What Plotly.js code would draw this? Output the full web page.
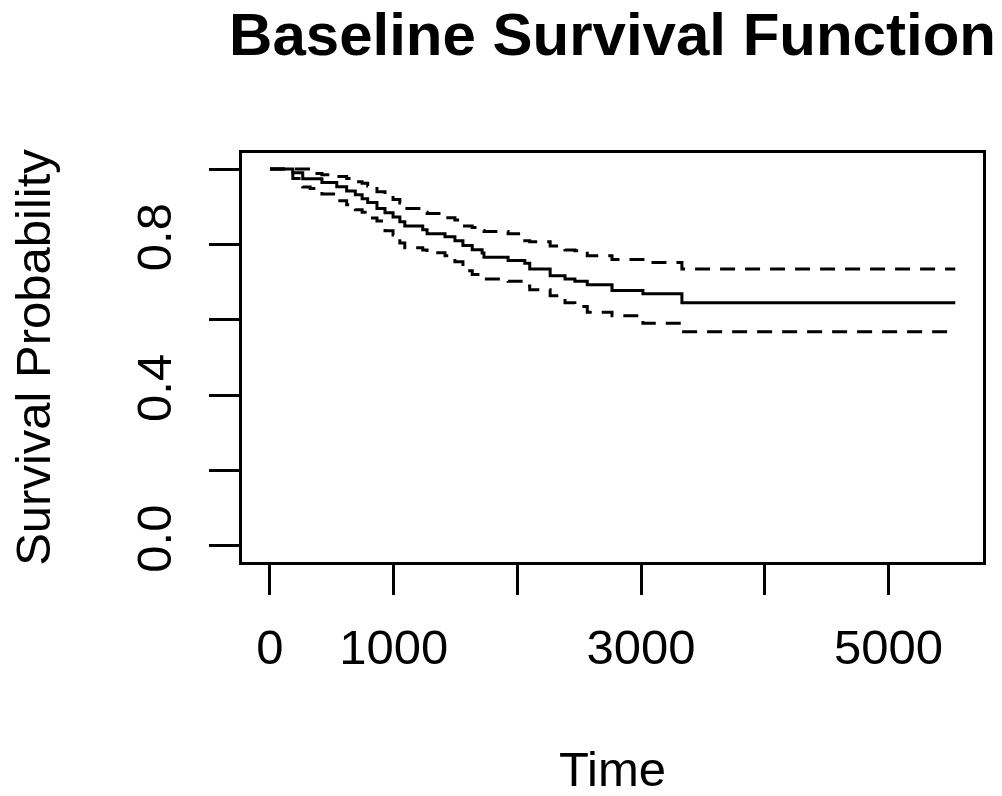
<!DOCTYPE html>
<html>
<head>
<meta charset="utf-8">
<script src="https://cdn.plot.ly/plotly-3.0.1.min.js"></script>
<style>html,body{margin:0;padding:0;background:#fff;}#chart{width:1002px;height:796px;}</style>
</head>
<body>
<div id="chart"></div>
<script>
// Step times (days) where the estimate changes
var times = [0, 185, 265, 325, 420, 540, 620, 690, 745, 790, 865, 930, 995, 1050, 1090, 1235, 1270, 1415, 1495, 1560, 1635, 1715, 1730, 1925, 2060, 2100, 2265, 2385, 2465, 2565, 2765, 3015, 3330, 5540];
// Survival estimate
var survival = [1.000, 0.990, 0.974, 0.974, 0.964, 0.953, 0.942, 0.932, 0.921, 0.911, 0.895, 0.884, 0.873, 0.860, 0.849, 0.839, 0.828, 0.820, 0.810, 0.797, 0.786, 0.777, 0.766, 0.757, 0.750, 0.735, 0.717, 0.708, 0.702, 0.693, 0.678, 0.669, 0.645, 0.645];
// Upper confidence band
var upper = [1.000, 1.000, 1.000, 0.988, 0.985, 0.980, 0.975, 0.966, 0.962, 0.955, 0.940, 0.930, 0.919, 0.910, 0.895, 0.885, 0.882, 0.871, 0.865, 0.849, 0.845, 0.837, 0.834, 0.828, 0.810, 0.807, 0.796, 0.785, 0.783, 0.770, 0.760, 0.752, 0.735, 0.735];
// Lower confidence band
var lower = [1.000, 0.975, 0.952, 0.948, 0.934, 0.916, 0.905, 0.892, 0.885, 0.870, 0.862, 0.836, 0.825, 0.804, 0.791, 0.785, 0.778, 0.770, 0.754, 0.730, 0.720, 0.711, 0.708, 0.702, 0.690, 0.680, 0.664, 0.645, 0.635, 0.620, 0.611, 0.591, 0.568, 0.568];

var xTickVals = [0, 1000, 2000, 3000, 4000, 5000];
var xTickText = ['0', '1000', '', '3000', '', '5000'];
var yTickVals = [0, 0.2, 0.4, 0.6, 0.8, 1.0];
var yTickText = ['0.0', '', '0.4', '', '0.8', ''];

var FONT = 'Liberation Sans, Arial, sans-serif';

var traces = [
  {x: times, y: survival, mode: 'lines', line: {shape: 'hv', color: '#000', width: 3}, hoverinfo: 'skip'},
  {x: times, y: upper, mode: 'lines', line: {shape: 'hv', color: '#000', width: 3, dash: '15px,10px'}, hoverinfo: 'skip'},
  {x: times, y: lower, mode: 'lines', line: {shape: 'hv', color: '#000', width: 3, dash: '15px,10px'}, hoverinfo: 'skip'}
];

var layout = {
  width: 1002, height: 796,
  margin: {l: 242, r: 19, t: 153, b: 234},
  paper_bgcolor: '#fff', plot_bgcolor: '#fff',
  showlegend: false,
  font: {family: FONT, color: '#000', size: 49},
  title: {text: '<b>Baseline Survival Function</b>', font: {family: FONT, size: 60, color: '#000'},
          x: 0.5, xref: 'paper', xanchor: 'center', y: 0.957, yref: 'container', yanchor: 'middle'},
  xaxis: {
    range: [-226, 5764], tickmode: 'array', tickvals: xTickVals, ticktext: xTickText,
    ticks: 'outside', ticklen: 30, tickwidth: 3, tickcolor: '#000',
    showline: true, linewidth: 3, linecolor: '#000', mirror: true,
    showgrid: false, zeroline: false, ticklabelstandoff: 10,
    tickfont: {family: FONT, size: 49, color: '#000'},
    title: {text: 'Time', font: {family: FONT, size: 49, color: '#000'}, standoff: 82}
  },
  yaxis: {
    range: [-0.0425, 1.0425], tickmode: 'array', tickvals: yTickVals, ticktext: yTickText,
    tickangle: -90,
    ticks: 'outside', ticklen: 30, tickwidth: 3, tickcolor: '#000',
    showline: true, linewidth: 3, linecolor: '#000', mirror: true,
    showgrid: false, zeroline: false, ticklabelstandoff: 18,
    tickfont: {family: FONT, size: 49, color: '#000'},
    title: {text: 'Survival Probability', font: {family: FONT, size: 49, color: '#000'}, standoff: 62}
  }
};

Plotly.newPlot('chart', traces, layout, {displayModeBar: false, staticPlot: true});
</script>
</body>
</html>
